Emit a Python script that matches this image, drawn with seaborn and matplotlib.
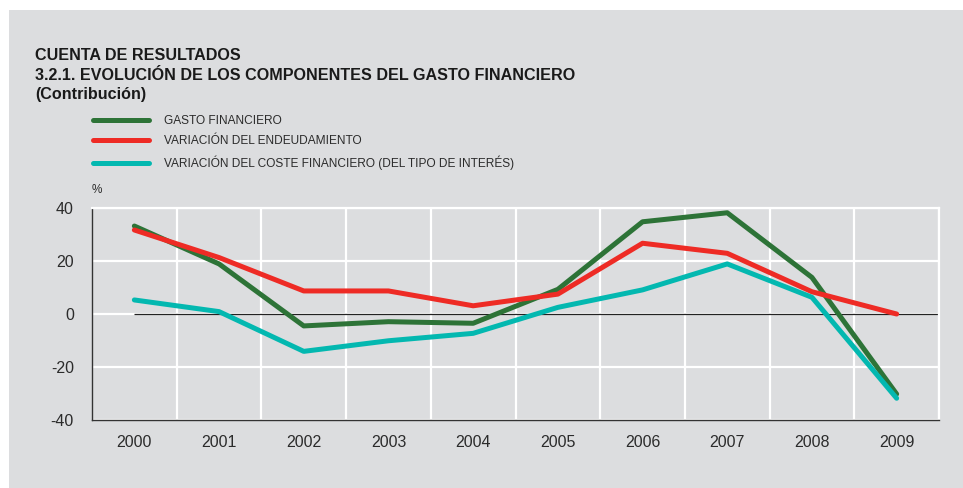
import matplotlib
matplotlib.use("Agg")
import matplotlib.pyplot as plt
import matplotlib.patches as mpatches
from matplotlib.ticker import FixedLocator
import seaborn as sns
import pandas as pd

years = ["2000", "2001", "2002", "2003", "2004", "2005", "2006", "2007", "2008", "2009"]
gasto = [33.2, 18.9, -4.5, -2.9, -3.5, 9.3, 34.8, 38.2, 13.8, -30.2]
endeud = [31.7, 21.3, 8.7, 8.7, 3.1, 7.5, 26.7, 22.9, 8.4, 0.0]
coste = [5.3, 0.9, -14.1, -10.1, -7.3, 2.5, 9.1, 18.9, 6.3, -31.8]
series_names = ["GASTO FINANCIERO",
                "VARIACIÓN DEL ENDEUDAMIENTO",
                "VARIACIÓN DEL COSTE FINANCIERO (DEL TIPO DE INTERÉS)"]
yticks = [-40, -20, 0, 20, 40]

colors = ["#2d7337", "#ee2b25", "#03b8b0"]
bg = "#dcdddf"
txt = "#2b2b2b"

df = pd.DataFrame({
    "year": years * 3,
    "value": gasto + endeud + coste,
    "serie": [series_names[0]] * len(years) + [series_names[1]] * len(years) + [series_names[2]] * len(years),
})

sns.set_theme(style="white")
plt.rcParams["font.family"] = ["Liberation Sans", "DejaVu Sans"]
plt.rcParams["axes.unicode_minus"] = False

fig = plt.figure(figsize=(9.63, 4.88), dpi=100, facecolor="white")
fig.patches.append(mpatches.Rectangle((9 / 963, 0), 1, 1 - 10 / 488, transform=fig.transFigure,
                                      facecolor=bg, edgecolor="none", zorder=-10))

ax = fig.add_axes([92 / 963, (488 - 420) / 488, (939 - 92) / 963, (420 - 208) / 488])
ax.set_facecolor(bg)

sns.lineplot(data=df, x="year", y="value", hue="serie", palette=colors, linewidth=3.6,
             ax=ax, sort=False, legend=True, zorder=3)

ax.set_xlim(-0.5, len(years) - 0.5)
ax.set_ylim(-40, 40)
ax.set_yticks(yticks)
ax.set_xticks(range(len(years)))
ax.set_xticklabels(years)
ax.xaxis.set_minor_locator(FixedLocator([i + 0.5 for i in range(-1, len(years))]))
ax.grid(False)
ax.grid(axis="x", which="minor", color="white", linewidth=1.6, zorder=1)
ax.grid(axis="y", which="major", color="white", linewidth=1.6, zorder=1)
ax.hlines(0, 0, len(years) - 0.5, color="#222222", linewidth=0.9, zorder=2)

ax.tick_params(axis="both", which="both", length=0, labelsize=11.5, labelcolor=txt)
ax.tick_params(axis="y", pad=13)
ax.tick_params(axis="x", pad=11)
ax.set_xlabel("")
ax.set_ylabel("")
for s in ["left", "bottom"]:
    ax.spines[s].set_color("#333333")
    ax.spines[s].set_linewidth(1.0)
for s in ["top", "right"]:
    ax.spines[s].set_color("white")
    ax.spines[s].set_linewidth(1.6)

handles, labels = ax.get_legend_handles_labels()
ax.legend_.remove()
leg = fig.legend(handles, labels, loc="upper left", bbox_to_anchor=(93 / 963, 1 - 115.5 / 488),
                 frameon=False, fontsize=8.6, handlelength=4.7, handletextpad=1.25,
                 labelspacing=0.66, borderaxespad=0, borderpad=0)
for t in leg.get_texts():
    t.set_color(txt)
for h in leg.legend_handles:
    h.set_linewidth(3.6)

title_kw = dict(fontsize=11.6, fontweight="bold", color="#1a1a1a", va="center")
fig.text(35 / 963, 1 - 56 / 488, "CUENTA DE RESULTADOS", **title_kw)
fig.text(35 / 963, 1 - 75 / 488, "3.2.1. EVOLUCIÓN DE LOS COMPONENTES DEL GASTO FINANCIERO", **title_kw)
fig.text(35 / 963, 1 - 95 / 488, "(Contribución)", **title_kw)
fig.text(97 / 963, 1 - 190 / 488, "%", fontsize=8.5, color=txt, ha="center", va="center")

fig.savefig("out.png", dpi=100, facecolor="white")
